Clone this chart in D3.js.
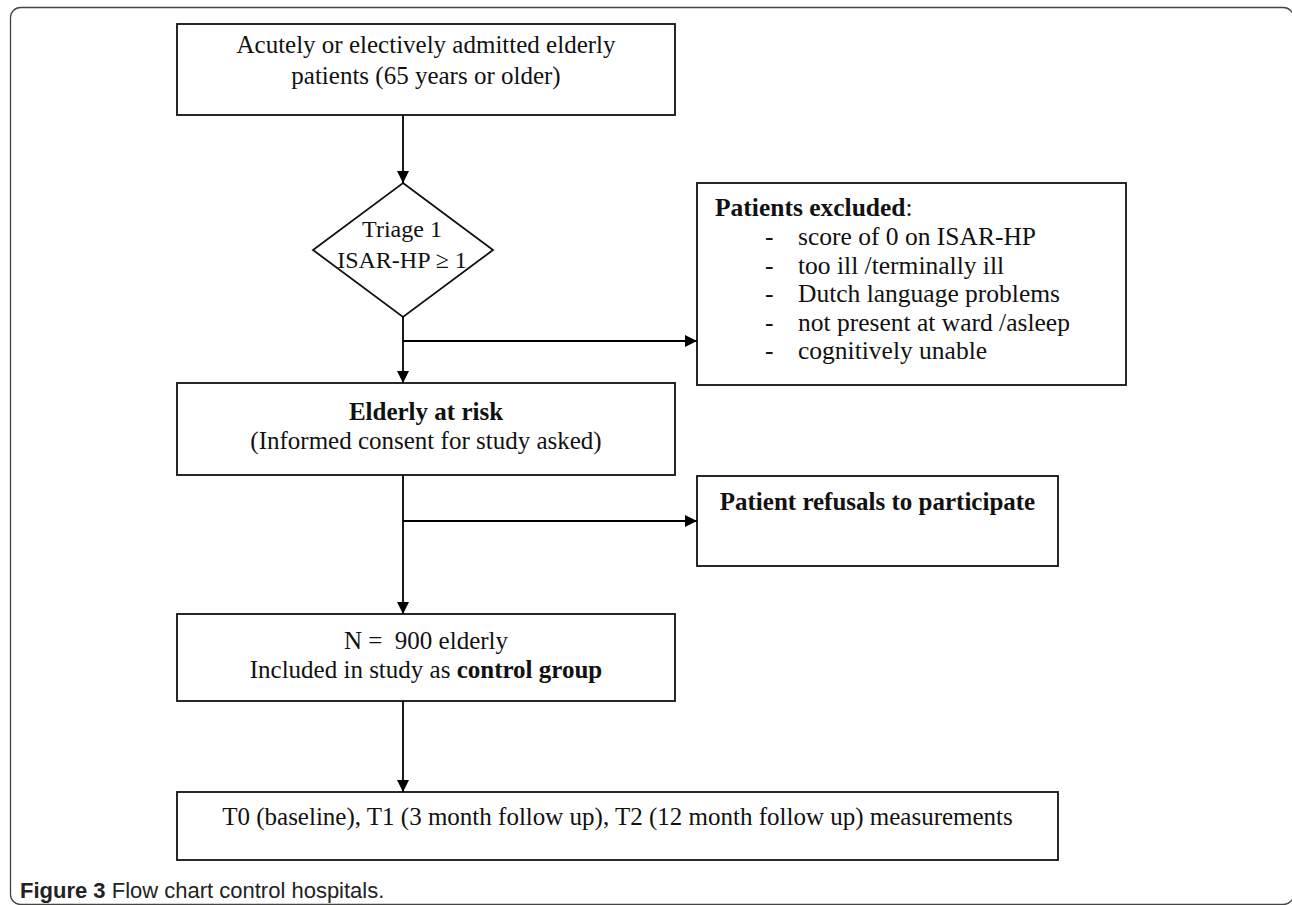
<!DOCTYPE html>
<html>
<head>
<meta charset="utf-8">
<script src="https://cdn.jsdelivr.net/npm/d3@7"></script>
<style>
  body { margin: 0; background: #fff; }
  text { font-family: "Liberation Serif", "Times New Roman", serif; fill: #111; white-space: pre; }
  .caption { font-family: "Liberation Sans", Arial, sans-serif; font-size: 22px; fill: #222; }
</style>
</head>
<body>
<svg width="1292" height="905"></svg>
<script>
// node texts
var startLines = ["Acutely or electively admitted elderly", "patients (65 years or older)"];
var triageLines = ["Triage 1", "ISAR-HP \u2265 1"];
var excludedTitle = "Patients excluded";
var excludedItems = ["score of 0 on ISAR-HP", "too ill /terminally ill", "Dutch language problems",
                     "not present at ward /asleep", "cognitively unable"];
var riskTitle = "Elderly at risk";
var riskSub = "(Informed consent for study asked)";
var refusalTitle = "Patient refusals to participate";
var includedN = 900;
var includedLines = ["N =  " + includedN + " elderly", "Included in study as "];
var includedBold = "control group";
var measureLine = "T0 (baseline), T1 (3 month follow up), T2 (12 month follow up) measurements";
var captionBold = "Figure 3";
var captionText = " Flow chart control hospitals.";

// layout
var spineX = 403;
var boxes = {
  start:    {x: 177, y: 24,  w: 498, h: 91},
  excluded: {x: 697, y: 183, w: 429, h: 202},
  risk:     {x: 177, y: 383, w: 498, h: 92},
  refusal:  {x: 697, y: 476, w: 361, h: 90},
  included: {x: 177, y: 614, w: 498, h: 87},
  measure:  {x: 177, y: 792, w: 881, h: 68}
};
var diamond = {cx: 403, cy: 250, rx: 90, ry: 67};
var exitY = {excluded: 341, refusal: 521};
var fs = 25;

var svg = d3.select("svg");

svg.append("defs").append("marker")
  .attr("id", "arrow")
  .attr("viewBox", "0 0 10 10")
  .attr("refX", 10).attr("refY", 5)
  .attr("markerWidth", 14).attr("markerHeight", 12)
  .attr("markerUnits", "userSpaceOnUse")
  .attr("orient", "auto")
  .append("path").attr("d", "M0,0L10,5L0,10Z").attr("fill", "#000");

// outer frame (right side runs off the page)
svg.append("rect")
  .attr("x", 10.5).attr("y", 7.5)
  .attr("width", 1283).attr("height", 897)
  .attr("rx", 10).attr("ry", 10)
  .attr("fill", "none").attr("stroke", "#444").attr("stroke-width", 1.3);

var g = svg.append("g");

g.selectAll("rect.box")
  .data(Object.values(boxes))
  .enter().append("rect")
  .attr("class", "box")
  .attr("x", function(d) { return d.x; })
  .attr("y", function(d) { return d.y; })
  .attr("width", function(d) { return d.w; })
  .attr("height", function(d) { return d.h; })
  .attr("fill", "#fff").attr("stroke", "#111").attr("stroke-width", 1.8);

g.append("path")
  .attr("d", "M" + diamond.cx + "," + (diamond.cy - diamond.ry) +
             "L" + (diamond.cx + diamond.rx) + "," + diamond.cy +
             "L" + diamond.cx + "," + (diamond.cy + diamond.ry) +
             "L" + (diamond.cx - diamond.rx) + "," + diamond.cy + "Z")
  .attr("fill", "#fff").attr("stroke", "#111").attr("stroke-width", 1.8);

// connectors
function line(x1, y1, x2, y2) {
  g.append("line")
    .attr("x1", x1).attr("y1", y1).attr("x2", x2).attr("y2", y2)
    .attr("stroke", "#000").attr("stroke-width", 1.8)
    .attr("marker-end", "url(#arrow)");
}
var b = boxes;
line(spineX, b.start.y + b.start.h, spineX, diamond.cy - diamond.ry);
line(spineX, diamond.cy + diamond.ry, spineX, b.risk.y);
line(spineX, exitY.excluded, b.excluded.x, exitY.excluded);
line(spineX, b.risk.y + b.risk.h, spineX, b.included.y);
line(spineX, exitY.refusal, b.refusal.x, exitY.refusal);
line(spineX, b.included.y + b.included.h, spineX, b.measure.y);

// texts; mids are the visual middle of the lower-case letters
function base(mid, size) { return mid + size * 0.32; }
function centered(lines, cx, mids, size, bold) {
  lines.forEach(function(t, i) {
    g.append("text")
      .attr("x", cx).attr("y", base(mids[i], size))
      .attr("text-anchor", "middle")
      .style("font-size", size + "px")
      .style("font-weight", bold ? "bold" : null)
      .text(t);
  });
}
function cx(box) { return box.x + box.w / 2; }

centered(startLines, cx(b.start), [45, 76], fs);
centered(triageLines, diamond.cx - 1, [229, 260], 24);

var exSize = 25.5;
var ex = g.append("text").attr("x", 715).attr("y", base(208, exSize)).style("font-size", exSize + "px");
ex.append("tspan").style("font-weight", "bold").text(excludedTitle);
ex.append("tspan").text(":");
excludedItems.forEach(function(t, i) {
  var y = base(237 + i * 28.5, exSize);
  g.append("text").attr("x", 765).attr("y", y).style("font-size", exSize + "px").text("-");
  g.append("text").attr("x", 798).attr("y", y).style("font-size", exSize + "px").text(t);
});

centered([riskTitle], cx(b.risk), [412], fs, true);
centered([riskSub], cx(b.risk), [441], fs);
centered([refusalTitle], cx(b.refusal), [502], fs, true);

centered([includedLines[0]], cx(b.included), [641], fs);
var inc = g.append("text")
  .attr("x", cx(b.included)).attr("y", base(670, fs))
  .attr("text-anchor", "middle").style("font-size", fs + "px");
inc.append("tspan").text(includedLines[1]);
inc.append("tspan").style("font-weight", "bold").text(includedBold);

centered([measureLine], cx(b.measure), [817], fs);

var cap = svg.append("text").attr("class", "caption").attr("x", 20).attr("y", 898);
cap.append("tspan").style("font-weight", "bold").text(captionBold);
cap.append("tspan").text(captionText);
</script>
</body>
</html>
